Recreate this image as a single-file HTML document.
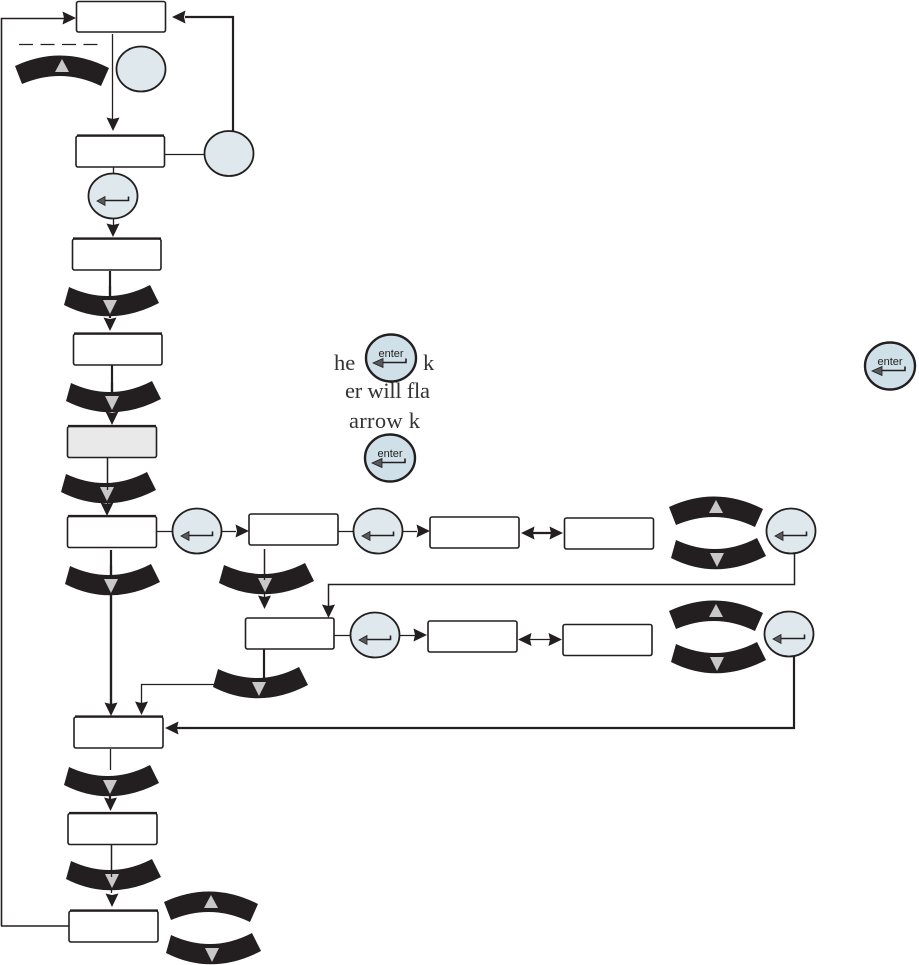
<!DOCTYPE html>
<html><head><meta charset="utf-8"><style>
html,body{margin:0;padding:0;background:#fff}
svg{display:block}
.b{fill:#fff;stroke:#231f20;stroke-width:1.6}
.l{fill:none;stroke:#231f20;stroke-width:1.3}
.t{fill:none;stroke:#231f20;stroke-width:2.2}
.a{fill:#231f20}
.s{font-family:"Liberation Serif",serif;font-size:22.5px;fill:#333}
.e{font-family:"Liberation Sans",sans-serif;font-size:11px;fill:#231f20}
</style></head><body>
<svg width="919" height="965" viewBox="0 0 919 965" xmlns="http://www.w3.org/2000/svg">
<defs>
<g id="bd"><path d="M-41,-29 Q0,-10 40,-31 L49,-13 Q0,12.500 -46,-11 Z" fill="#231f20"/><path d="M-7,-16 H7 L0,-2 Z" fill="#c8c8c8"/></g>
<g id="bu"><path d="M-47,10 Q0,-12 47,12 L39,30 Q0,11 -40,28 Z" fill="#231f20"/><path d="M-7,16 H7 L0,3 Z" fill="#c8c8c8"/></g>
<g id="c"><ellipse rx="24.5" ry="22.5" fill="#dfe8ec" stroke="#231f20" stroke-width="1.8"/></g>
<g id="ca"><use href="#c"/><path d="M-8,4.500 H15.500 V0.500" fill="none" stroke="#231f20" stroke-width="1.600"/><path d="M-16,5 L-8,0.500 V9.500 Z" fill="#58595b" stroke="#231f20" stroke-width="0.800"/></g>
<g id="ce"><ellipse rx="25" ry="23.500" fill="#cfe0e8" stroke="#231f20" stroke-width="2.400"/><path d="M-8,4.500 H15 V0.500" fill="none" stroke="#231f20" stroke-width="1.600"/><path d="M-18,5 L-8,0.500 V9.500 Z" fill="#58595b" stroke="#231f20" stroke-width="0.800"/></g>
<g id="ad"><path d="M-6.500,-13.500 L0,-12 L6.500,-13.500 L0,0 Z" class="a"/></g>
<g id="ar"><path d="M-13.500,-6.500 L-12,0 L-13.500,6.500 L0,0 Z" class="a"/></g>
<g id="al"><path d="M13.500,-6.500 L12,0 L13.500,6.500 L0,0 Z" class="a"/></g>
</defs>

<!-- connectors -->
<path class="l" d="M1.500,926 V18.500 H65" style="stroke-width:1.600"/>
<path class="l" d="M69,926 H1" style="stroke-width:1.600"/>
<path class="t" d="M233,131 V17 H185"/>
<path class="l" d="M112.500,34 V120"/>
<path class="l" d="M165,154.500 H205"/>
<path class="l" d="M113.500,167 V174 M113.500,219 V226"/>
<path class="t" d="M110,271 V318"/>
<path class="t" d="M112,365 V412"/>
<path class="l" d="M107.500,458 V504"/>
<path class="t" d="M111,550 V705"/>
<path class="l" d="M157,531.500 H173 M221,531.500 H236 M338,531.500 H354 M402,531.500 H417"/>
<path class="l" d="M264.500,549 V597"/>
<path class="t" d="M531,533 H554"/>
<path class="l" d="M334,635.500 H351 M399,635.500 H415 M528,639.500 H553"/>
<path class="l" d="M264,649 V680 M214,684.500 H141.500 V706"/>
<path class="l" d="M794.500,553 V584.500 H328.500 V606" style="stroke-width:1.500"/>
<path class="t" d="M794,656 V728 H175"/>
<path class="l" d="M110.500,749 V770"/>
<path class="t" d="M110,796 V800"/>
<path class="l" d="M111.500,845 V893"/>
<path class="l" d="M19,44.500 H98" stroke-dasharray="14,7.500"/>

<!-- boxes -->
<rect class="b" x="76.500" y="1.500" width="89" height="30.500" rx="2"/>
<rect class="b" x="76" y="136" width="88.500" height="31" rx="2"/><path class="t" d="M77,135.500 H164"/>
<rect class="b" x="72.500" y="239" width="88.500" height="31" rx="2"/><path class="t" d="M73,238.500 H161"/>
<rect class="b" x="73.500" y="334" width="88.500" height="31" rx="2"/><path class="t" d="M74,333.500 H162"/>
<rect class="b" x="67.500" y="426.500" width="89" height="31" rx="2" style="fill:#e9e9ea"/><path class="t" d="M68,426 H156"/>
<rect class="b" x="67.500" y="516.500" width="89" height="31" rx="2"/><path class="t" d="M68,516 H156"/>
<rect class="b" x="249" y="514" width="89" height="31" rx="2"/>
<rect class="b" x="430" y="517" width="89" height="31" rx="2"/>
<rect class="b" x="564.500" y="518" width="89" height="31" rx="2"/>
<rect class="b" x="245.500" y="618" width="88.500" height="31" rx="2"/>
<rect class="b" x="428" y="621" width="89" height="31" rx="2"/>
<rect class="b" x="563" y="624.500" width="89" height="31" rx="2"/>
<rect class="b" x="74" y="717" width="89" height="31" rx="2"/><path class="t" d="M75,716.500 H163"/>
<rect class="b" x="68" y="813.500" width="89" height="31" rx="2"/><path class="t" d="M69,813 H157"/>
<rect class="b" x="69" y="911" width="89" height="31" rx="2"/><path class="t" d="M70,910.500 H158"/>

<!-- bands -->
<use href="#bu" x="62" y="56"/>
<use href="#bd" x="110" y="316"/>
<use href="#bd" x="112" y="412"/>
<use href="#bd" x="107" y="503"/>
<use href="#bd" x="111" y="595"/>
<use href="#bd" x="265" y="594"/>
<use href="#bd" x="259" y="698"/>
<use href="#bd" x="110" y="796"/>
<use href="#bd" x="112" y="890"/>
<use href="#bu" x="211" y="892"/>
<use href="#bd" x="212" y="964"/>
<use href="#bu" x="716" y="497"/>
<use href="#bd" x="717" y="569"/>
<use href="#bu" x="716" y="601"/>
<use href="#bd" x="717" y="673"/>

<!-- lines over bands -->
<path class="l" d="M107.500,458 V490 M264.500,549 V580 M111.500,845 V877"/>
<path class="t" d="M110,286 V300 M112,382 V395 M111,565 V578 M111,595 V705 M264,649 V680"/>

<!-- circles -->
<use href="#c" x="141" y="69"/>
<use href="#c" x="229" y="153.500"/>
<use href="#ca" x="113" y="196"/>
<use href="#ca" x="197" y="531"/>
<use href="#ca" x="378" y="531"/>
<use href="#ca" x="791" y="531"/>
<use href="#ca" x="375" y="635"/>
<use href="#ca" x="789" y="634"/>

<!-- arrowheads -->
<use href="#ar" x="76" y="18"/>
<use href="#al" x="172" y="17"/>
<use href="#ad" x="113" y="131"/>
<use href="#ad" x="113" y="237"/>
<use href="#ad" x="110" y="331"/>
<use href="#ad" x="112" y="425"/>
<use href="#ad" x="107" y="516"/>
<use href="#ar" x="249" y="531"/>
<use href="#ar" x="430" y="531"/>
<use href="#al" x="521" y="533"/>
<use href="#ar" x="563" y="533"/>
<use href="#ad" x="264.500" y="609"/>
<use href="#ad" x="328.500" y="618"/>
<use href="#ar" x="427" y="635"/>
<use href="#al" x="518" y="639.500"/>
<use href="#ar" x="562" y="639.500"/>
<use href="#ad" x="111" y="716"/>
<use href="#ad" x="141.500" y="715"/>
<use href="#al" x="165" y="728"/>
<use href="#ad" x="110.500" y="811"/>
<use href="#ad" x="112" y="907"/>

<!-- enter buttons -->
<use href="#ce" x="391" y="358"/><text class="e" x="391" y="357" text-anchor="middle">enter</text>
<use href="#ce" x="390" y="458"/><text class="e" x="390" y="457" text-anchor="middle">enter</text>
<use href="#ce" x="890" y="366"/><text class="e" x="890" y="365" text-anchor="middle">enter</text>

<!-- text -->
<text class="s" x="334" y="370">he</text>
<text class="s" x="423" y="370">k</text>
<text class="s" x="345" y="398" textLength="85">er will fla</text>
<text class="s" x="349" y="428" textLength="71">arrow k</text>
</svg>
</body></html>
